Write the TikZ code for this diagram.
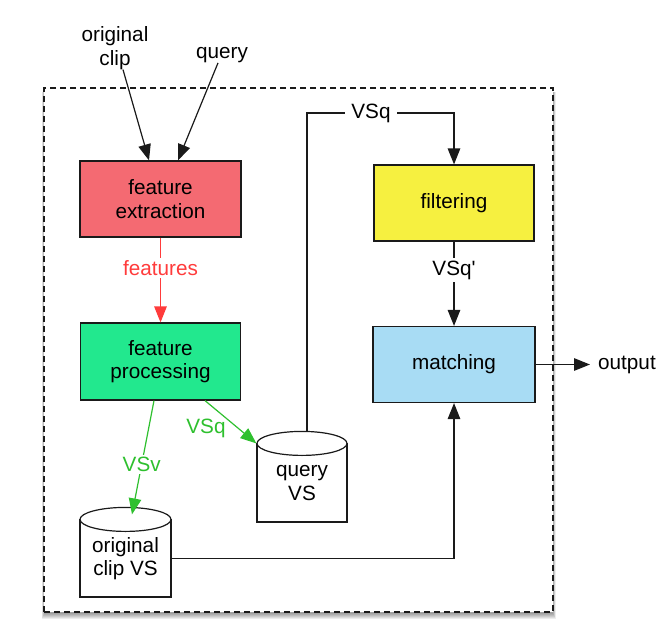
\documentclass[tikz,border=0pt]{standalone}
\usepackage{fontspec}
\setmainfont{Liberation Sans}
\usetikzlibrary{arrows.meta,calc}
\definecolor{cExtr}{HTML}{F46A72}
\definecolor{cProc}{HTML}{22E88E}
\definecolor{cFilt}{HTML}{F6F040}
\definecolor{cMatch}{HTML}{A8DCF4}
\definecolor{cRed}{HTML}{FF3B3B}
\definecolor{cGreen}{HTML}{2EC02E}
\definecolor{cLine}{HTML}{1A1A1A}
\begin{document}
\begin{tikzpicture}[x=1pt,y=-1pt,
  txt/.style={font=\fontsize{20.7}{23.5}\selectfont, align=center, inner sep=0pt},
  box/.style={txt, draw=cLine, line width=1.2pt, minimum width=160pt, minimum height=76pt},
  cyl/.style={txt, draw=cLine, line width=1.2pt, fill=white, minimum width=90pt, minimum height=78pt},
  arr/.style={draw=cLine, line width=1.2pt, -{Triangle[length=16pt,width=12.5pt]}},
  rarr/.style={arr, draw=cRed},
  garr/.style={arr, draw=cGreen},
  onlbl/.style={txt, fill=white, inner sep=2.5pt},
  frame/.style={draw=cLine, line width=1.2pt, dash pattern=on 6pt off 4pt, fill=white}
]
\useasboundingbox (0,0) rectangle (658,642);
\fill[white] (0,0) rectangle (658,642);
% shadow of the frame
\foreach \d in {0,1,...,5}{
  \fill[black,opacity=0.07] (44-0.5*\d,92) rectangle (553+0.5*\d,612+1.5+\d);
}
\node[frame, minimum width=509pt, minimum height=524pt, inner sep=0pt] (frame) at (298.5,350) {};

% boxes
\node[box, fill=cExtr, minimum width=161pt] (fe) at (160.5,199) {feature\\extraction};
\node[box, fill=cProc, minimum height=77pt] (fp) at (160.5,361.5) {feature\\processing};
\node[box, fill=cFilt] (fl) at (454,203) {filtering};
\node[box, fill=cMatch, minimum width=162pt] (ma) at (454,364.5) {matching};

% cylinders (bodies)
\node[cyl] (qvs) at (302,483) {query\\VS};
\node[cyl, minimum width=91pt, minimum height=77pt] (ocvs) at (125.5,558.5) {original\\clip VS};

% outside labels
\node[txt] (oc) at (115,48) {original\\clip};
\node[txt] (qu) at (222,55) {query};
\node[txt, anchor=west] (out) at (598,364.5) {output};

% connectors
\draw[arr] ([xshift=8pt]oc.south) -- ([xshift=-11.5pt]fe.north);
\draw[arr] ([xshift=-4pt]qu.south) -- ([xshift=17.5pt]fe.north);

\draw[rarr] (fe) -- (fp) node[onlbl, text=cRed, pos=0.36] (lfeat) {features};

\coordinate (vsqtop) at (0,113);
\draw[arr] ([xshift=5pt]qvs.north) -- ([xshift=5pt]qvs.north |- vsqtop) -- (fl.north |- vsqtop) -- (fl.north);
\node[onlbl, inner xsep=6pt] (lvsq) at (371,113) {VSq};

\draw[arr] (fl) -- (ma) node[onlbl, pos=0.34] (lvsqp) {VSq\textquotesingle};

\draw[arr] (ma.east) -- ([xshift=-8pt]out.west);

\draw[arr] (ocvs.east) -| (ma.south);

\draw[garr] ([xshift=44.5pt]fp.south) -- (qvs.north west);
\node[txt, text=cGreen] (lvsqg) at (206,428) {VSq};

% cylinder tops
\draw[draw=cLine, line width=1.2pt, fill=white] (qvs.north) ellipse [x radius=45pt, y radius=12pt];
\draw[draw=cLine, line width=1.2pt, fill=white] (ocvs.north) ellipse [x radius=45.5pt, y radius=12pt];
% green arrow into the original clip VS, drawn over its top
\draw[garr] ([xshift=-6.5pt]fp.south) -- ([xshift=6.5pt,yshift=5pt]ocvs.north) node[onlbl, text=cGreen, pos=0.56] (lvsv) {VSv};
\end{tikzpicture}
\end{document}
